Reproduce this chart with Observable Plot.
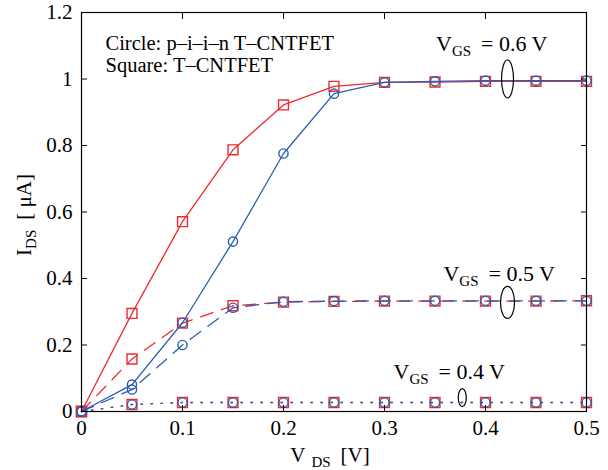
<!DOCTYPE html>
<html><head><meta charset="utf-8">
<script src="https://cdn.jsdelivr.net/npm/d3@7"></script>
<script src="https://cdn.jsdelivr.net/npm/@observablehq/plot@0.6"></script>
<style>
body{margin:0;background:#fff} svg{display:block}
svg, svg text { font-family: "Liberation Serif", "Times New Roman", serif !important; }
</style>
</head><body><div id="chart"></div>
<script>
// ---- data ----
const vds   = [0, 0.05, 0.1, 0.15, 0.2, 0.25, 0.3, 0.35, 0.4, 0.45, 0.5];
const sq06  = [0, 0.295, 0.571, 0.787, 0.922, 0.978, 0.990, 0.991, 0.993, 0.993, 0.993];
const ci06  = [0, 0.081, 0.267, 0.511, 0.776, 0.956, 0.990, 0.993, 0.995, 0.995, 0.995];
const sq05  = [0, 0.158, 0.266, 0.318, 0.329, 0.331, 0.332, 0.332, 0.332, 0.332, 0.333];
const ci05  = [0, 0.066, 0.200, 0.312, 0.330, 0.332, 0.333, 0.333, 0.333, 0.333, 0.333];
const sq04  = [0, 0.021, 0.027, 0.027, 0.027, 0.027, 0.027, 0.027, 0.027, 0.027, 0.027];
const ci04  = [0, 0.021, 0.027, 0.027, 0.027, 0.027, 0.027, 0.027, 0.027, 0.027, 0.027];
const xTicks = [0, 0.1, 0.2, 0.3, 0.4, 0.5];
const yTicks = [0, 0.2, 0.4, 0.6, 0.8, 1, 1.2];
const legendLines = ["Circle: p–i–i–n T–CNTFET", "Square: T–CNTFET"];
const vgsValues = ["0.6", "0.5", "0.4"];
const xLabel = "V| DS|[V]";
const yLabel = "I|DS|[ μA]";

// ---- annotation placement ----
const vgsAnchorX = [0.351, 0.3584, 0.3089];
const vgsAnchorY = [1.083, 0.391, 0.0992];
const ovalCX = [0.4218, 0.4218, 0.377];
const ovalCY = [1.0, 0.328, 0.042];
const ovalR  = [[6, 19], [7, 16], [4, 9]];

const RED = "#ee2a2e", BLUE = "#2b5db1";
const toRows = (vals) => vds.map((x, i) => ({x, y: vals[i]}));
const fmt = d => `${d}`;

function oval(rx, ry) {
  const k = 0.5523;
  return {draw(ctx) {
    ctx.moveTo(rx, 0);
    ctx.bezierCurveTo(rx, ry * k, rx * k, ry, 0, ry);
    ctx.bezierCurveTo(-rx * k, ry, -rx, ry * k, -rx, 0);
    ctx.bezierCurveTo(-rx, -ry * k, -rx * k, -ry, 0, -ry);
    ctx.bezierCurveTo(rx * k, -ry, rx, -ry * k, rx, 0);
    ctx.closePath();
  }};
}

const series = [
  {vals: sq06, color: RED,  dash: null,      sym: "square"},
  {vals: sq05, color: RED,  dash: "13,9",    sym: "square"},
  {vals: sq04, color: RED,  dash: "1.5,8.5", sym: "square"},
  {vals: ci06, color: BLUE, dash: null,      sym: "circle"},
  {vals: ci05, color: BLUE, dash: "13,9",    sym: "circle"},
  {vals: ci04, color: BLUE, dash: "1.5,8.5", sym: "circle"}
];

const marks = [];
for (const s of series) {
  const rows = toRows(s.vals);
  marks.push(Plot.line(rows, {x: "x", y: "y", stroke: s.color, strokeWidth: 1.3, strokeDasharray: s.dash}));
  marks.push(Plot.dot(rows, {x: "x", y: "y", symbol: s.sym, r: s.sym === "square" ? 5.6 : 4.6,
    stroke: s.color, strokeWidth: 1.4, fill: "none"}));
}
ovalCX.forEach((cx, i) => {
  marks.push(Plot.dot([{x: cx, y: ovalCY[i]}], {x: "x", y: "y", symbol: oval(ovalR[i][0], ovalR[i][1]),
    stroke: "black", strokeWidth: 1.2, fill: "none"}));
});
const vgsRows = vgsValues.map((v, i) => ({x: vgsAnchorX[i], y: vgsAnchorY[i], t: `V|GS|= ${v} V`}));
marks.push(Plot.text(vgsRows, {x: "x", y: "y", text: "t", textAnchor: "start", lineAnchor: "bottom", fontSize: 22, fill: "black"}));

marks.push(Plot.text([legendLines.join("\n")], {frameAnchor: "top-left", dx: 24, dy: 21, textAnchor: "start",
  lineAnchor: "top", lineHeight: 1.1, fontSize: 20.5, fill: "black"}));

marks.push(Plot.text([xLabel], {frameAnchor: "bottom", dx: -4, dy: 50, lineAnchor: "bottom", textAnchor: "middle", fontSize: 21, fill: "black"}));
marks.push(Plot.text([yLabel], {frameAnchor: "left", dx: -51, dy: 3, rotate: -90, lineAnchor: "bottom", textAnchor: "middle", fontSize: 21, fill: "black"}));

marks.push(Plot.frame({stroke: "black", strokeWidth: 1.2}));
marks.push(Plot.axisX(xTicks, {anchor: "bottom", tickSize: -6, tickPadding: 15, label: null, fontSize: 21, tickFormat: fmt}));
marks.push(Plot.axisX(xTicks, {anchor: "top", tickSize: -6, tickFormat: () => "", label: null}));
marks.push(Plot.axisY(yTicks, {anchor: "left", tickSize: -6, tickPadding: 15, label: null, fontSize: 21, tickFormat: fmt}));
marks.push(Plot.axisY(yTicks, {anchor: "right", tickSize: -6, tickFormat: () => "", label: null}));

const chart = Plot.plot({
  width: 608, height: 470,
  marginLeft: 81, marginRight: 22, marginTop: 12, marginBottom: 59,
  x: {domain: [0, 0.5]},
  y: {domain: [0, 1.2]},
  style: {fontFamily: "'Liberation Serif', 'Times New Roman', serif", fontSize: "21px", background: "white", color: "black"},
  marks
});

// subscripts: "main|sub|rest"
chart.querySelectorAll("text").forEach(t => {
  const s = t.textContent;
  if (!s.includes("|")) return;
  const [a, b, c] = s.split("|");
  t.textContent = "";
  const ns = "http://www.w3.org/2000/svg";
  const t1 = document.createElementNS(ns, "tspan"); t1.textContent = a;
  const t2 = document.createElementNS(ns, "tspan"); t2.textContent = b.trim();
  t2.setAttribute("font-size", "15"); t2.setAttribute("dy", "5");
  if (b.startsWith(" ")) t2.setAttribute("dx", "6");
  const t3 = document.createElementNS(ns, "tspan"); t3.textContent = c;
  t3.setAttribute("dy", "-5"); t3.setAttribute("dx", "10");
  t.append(t1, t2, t3);
});

document.getElementById("chart").appendChild(chart);
</script>
</body></html>
